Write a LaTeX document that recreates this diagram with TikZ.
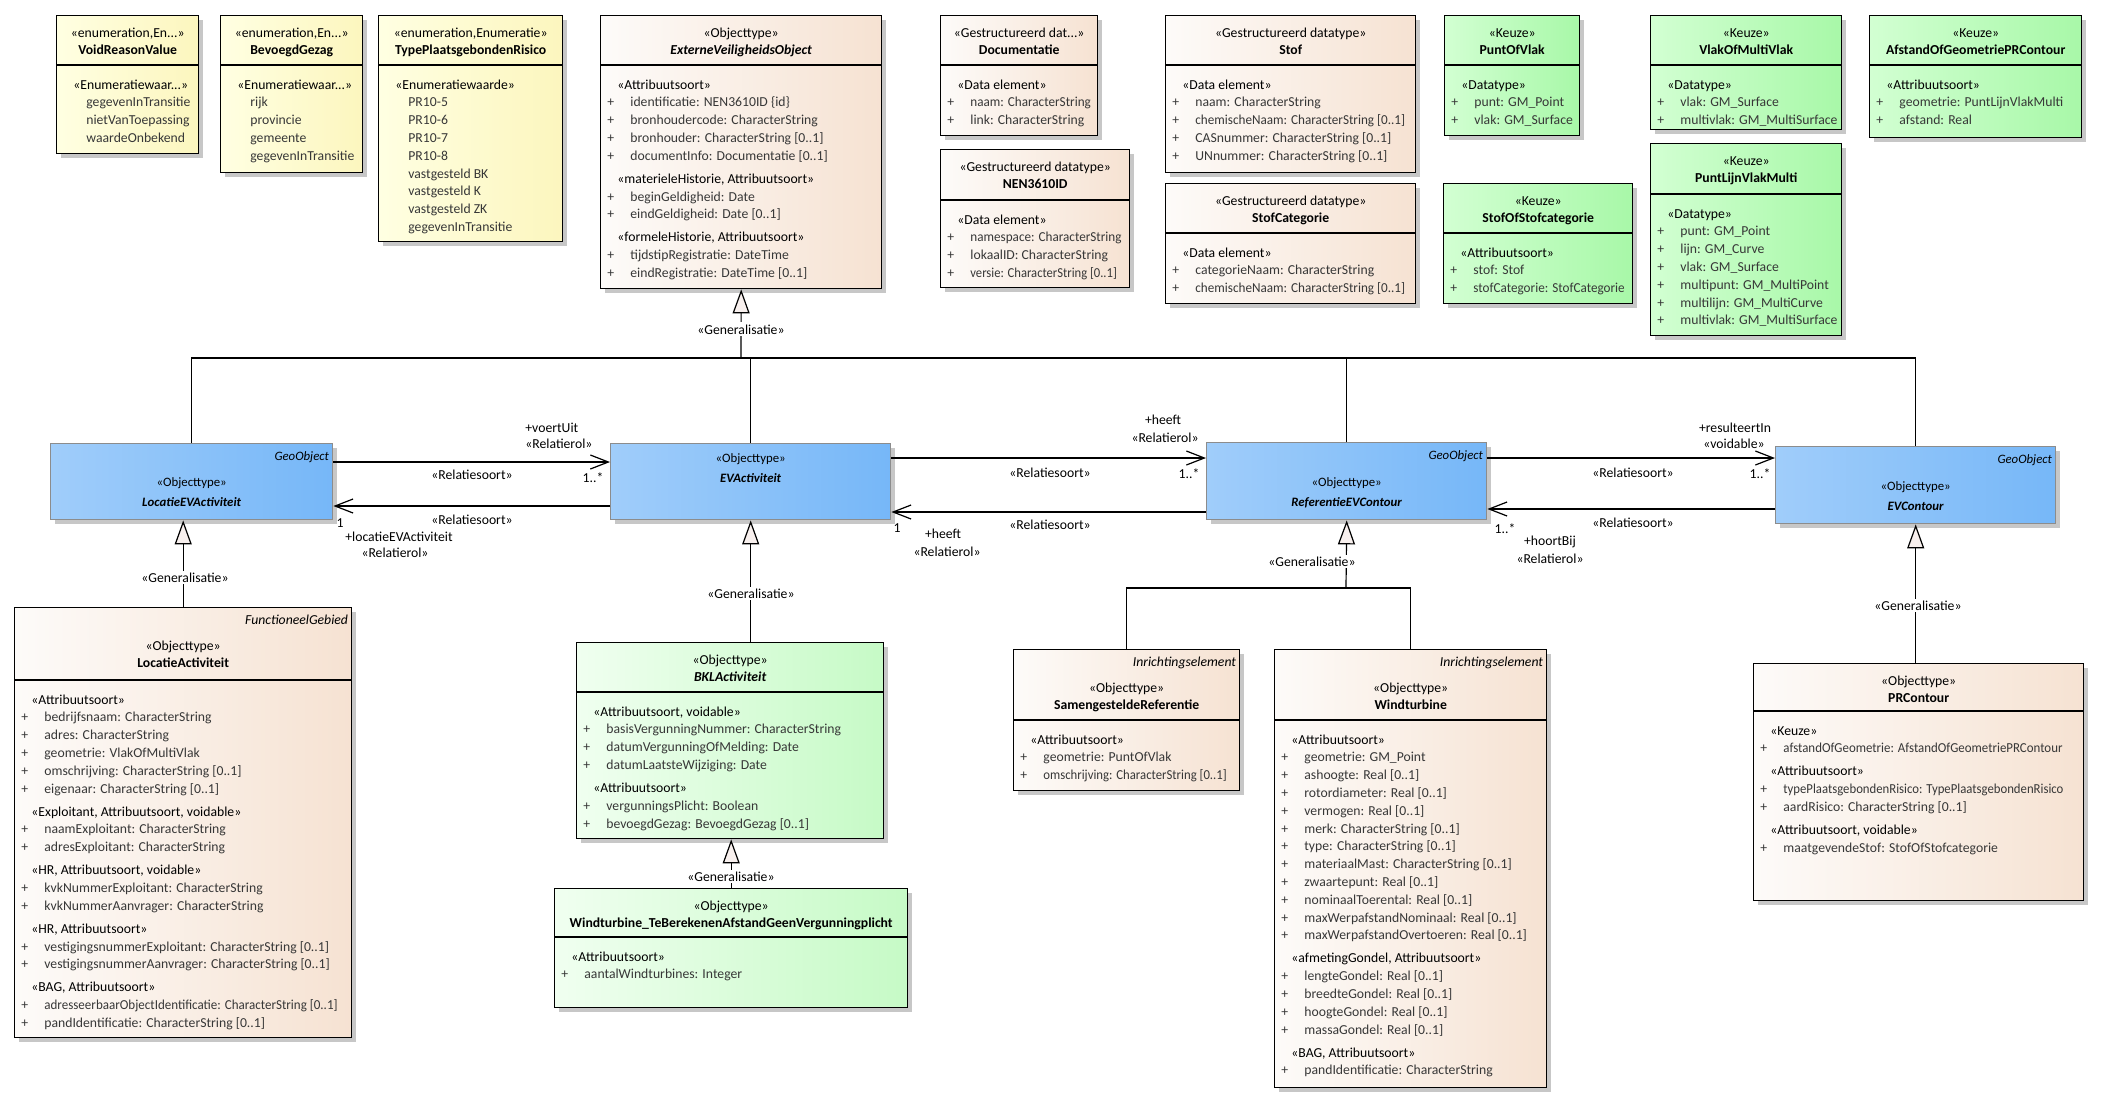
\documentclass[tikz,border=0pt]{standalone}
\usepackage{fontspec}
\setmainfont{Carlito}
\usetikzlibrary{arrows.meta,calc,shadows}

\definecolor{enumL}{RGB}{255,255,226}
\definecolor{enumR}{RGB}{252,246,190}
\definecolor{peachL}{RGB}{253,251,249}
\definecolor{peachR}{RGB}{246,226,210}
\definecolor{keuzeL}{RGB}{210,255,210}
\definecolor{keuzeR}{RGB}{168,248,168}
\definecolor{lgreenL}{RGB}{240,255,240}
\definecolor{lgreenR}{RGB}{198,250,198}
\definecolor{blueL}{RGB}{160,205,250}
\definecolor{blueR}{RGB}{118,183,248}
\definecolor{trifill}{RGB}{248,240,238}
\definecolor{itemtxt}{RGB}{55,55,55}

\newcommand{\bodyfont}{\fontsize{6.85}{8.9}\selectfont}
\newcommand{\geofont}{\fontsize{6.4}{9.6}\selectfont}
\newcommand{\sttype}[1]{\strut\hspace*{5pt}«#1»}
\newcommand{\attr}[1]{\strut\textcolor{itemtxt}{\makebox[11.5pt][l]{+}#1}}
\newcommand{\enumv}[1]{\strut\textcolor{itemtxt}{\makebox[11.5pt][l]{}#1}}
\newcommand{\umlhead}[2]{\strut«#1»\\\strut\textbf{#2}}
\newcommand{\squeeze}[2]{\scalebox{#1}[1]{#2}}
% style, name, position, width, height, divider, header, body, header offset
\newcommand{\umlclass}[9]{%
  \node[#1, minimum width=#4*0.5pt, minimum height=#5*0.5pt] (#2) at #3 {};
  \draw[line width=0.7pt] ($(#2.north west)+(0,#6)$) -- ($(#2.north east)+(0,#6)$);
  \node[hd] (#2-h) at ($(#2.north)+(0,#9)$) {#7};
  \node[bd] (#2-b) at ($(#2.north west)+(7,#6+11.3)$) {#8};
}

\begin{document}
\begin{tikzpicture}[x=0.5pt,y=-0.5pt,
  box/.style={draw=black, line width=0.7pt, inner sep=0pt, anchor=north west,
    drop shadow={shadow xshift=2pt,shadow yshift=-2pt,fill=black!22,opacity=1}},
  enumbox/.style={box, left color=enumL, right color=enumR},
  peachbox/.style={box, left color=peachL, right color=peachR},
  keuzebox/.style={box, left color=keuzeL, right color=keuzeR},
  lgreenbox/.style={box, left color=lgreenL, right color=lgreenR},
  geobox/.style={box, draw=black!45, left color=blueL, right color=blueR},
  hd/.style={anchor=north, align=center, inner sep=0pt, font=\bodyfont},
  bd/.style={anchor=north west, align=left, inner sep=0pt, font=\bodyfont},
  tag/.style={anchor=north east, inner sep=0pt, font=\bodyfont\itshape},
  geotag/.style={tag, font=\geofont\itshape},
  geohd/.style={hd, font=\geofont},
  lbl/.style={anchor=base, inner sep=0pt, font=\bodyfont},
  glbl/.style={lbl, fill=white, inner sep=1pt},
  con/.style={draw, line width=0.6pt},
  gen/.style={con, -{Triangle[length=12pt,width=8.5pt,fill=trifill,line width=0.6pt]}},
  assoc/.style={con, -{Straight Barb[length=9pt,width=7pt,line width=0.6pt]}}]

\fill[white] (0,0) rectangle (2105,1105);

% enumeraties
\umlclass{enumbox}{void}{(56,15)}{142}{138}{50}{\umlhead{enumeration,En...}{VoidReasonValue}}
  {\sttype{Enumeratiewaar...}\\\enumv{gegevenInTransitie}\\\enumv{nietVanToepassing}\\\enumv{waardeOnbekend}}{9.3}
\umlclass{enumbox}{bevoegd}{(220,15)}{142}{157}{50}{\umlhead{enumeration,En...}{BevoegdGezag}}
  {\sttype{Enumeratiewaar...}\\\enumv{rijk}\\\enumv{provincie}\\\enumv{gemeente}\\\enumv{gegevenInTransitie}}{9.3}
\umlclass{enumbox}{typepr}{(378,15)}{184}{226}{50}{\umlhead{enumeration,Enumeratie}{TypePlaatsgebondenRisico}}
  {\sttype{Enumeratiewaarde}\\\enumv{PR10-5}\\\enumv{PR10-6}\\\enumv{PR10-7}\\\enumv{PR10-8}\\\enumv{vastgesteld BK}\\\enumv{vastgesteld K}\\\enumv{vastgesteld ZK}\\\enumv{gegevenInTransitie}}{9.3}

% bovenste rij
\umlclass{peachbox}{evo}{(600,15)}{281}{273}{50}{\umlhead{Objecttype}{\textit{ExterneVeiligheidsObject}}}
  {\sttype{Attribuutsoort}\\\attr{identificatie: NEN3610ID \{id\}}\\\attr{bronhoudercode: CharacterString}\\\attr{bronhouder: CharacterString [0..1]}\\\attr{documentInfo: Documentatie [0..1]}\\[2.6pt]
   \sttype{materieleHistorie, Attribuutsoort}\\\attr{beginGeldigheid: Date}\\\attr{eindGeldigheid: Date [0..1]}\\[2.6pt]
   \sttype{formeleHistorie, Attribuutsoort}\\\attr{tijdstipRegistratie: DateTime}\\\attr{eindRegistratie: DateTime [0..1]}}{9.3}
\umlclass{peachbox}{docu}{(940,15)}{157}{120}{50}{\umlhead{Gestructureerd dat...}{Documentatie}}
  {\sttype{Data element}\\\attr{\squeeze{0.96}{naam: CharacterString}}\\\attr{link: CharacterString}}{9.3}
\umlclass{peachbox}{nen}{(940,149)}{189}{138}{51}{\umlhead{Gestructureerd datatype}{NEN3610ID}}
  {\sttype{Data element}\\\attr{\squeeze{0.96}{namespace: CharacterString}}\\\attr{lokaalID: CharacterString}\\\attr{\squeeze{0.92}{versie: CharacterString [0..1]}}}{9.3}
\umlclass{peachbox}{stof}{(1165,15)}{250}{157}{50}{\umlhead{Gestructureerd datatype}{Stof}}
  {\sttype{Data element}\\\attr{naam: CharacterString}\\\attr{\squeeze{0.96}{chemischeNaam: CharacterString [0..1]}}\\\attr{CASnummer: CharacterString [0..1]}\\\attr{UNnummer: CharacterString [0..1]}}{9.3}
\umlclass{peachbox}{stofcat}{(1165,183)}{250}{120}{50}{\umlhead{Gestructureerd datatype}{StofCategorie}}
  {\sttype{Data element}\\\attr{categorieNaam: CharacterString}\\\attr{\squeeze{0.96}{chemischeNaam: CharacterString [0..1]}}}{9.3}
\umlclass{keuzebox}{puntofvlak}{(1444,15)}{135}{120}{50}{\umlhead{Keuze}{PuntOfVlak}}
  {\sttype{Datatype}\\\attr{punt: GM\_Point}\\\attr{vlak: GM\_Surface}}{9.3}
\umlclass{keuzebox}{stofofcat}{(1443,183)}{189}{120}{50}{\umlhead{Keuze}{StofOfStofcategorie}}
  {\sttype{Attribuutsoort}\\\attr{stof: Stof}\\\attr{\squeeze{0.96}{stofCategorie: StofCategorie}}}{9.3}
\umlclass{keuzebox}{vlakmulti}{(1650,15)}{191}{114}{50}{\umlhead{Keuze}{VlakOfMultiVlak}}
  {\sttype{Datatype}\\\attr{vlak: GM\_Surface}\\\attr{multivlak: GM\_MultiSurface}}{9.3}
\umlclass{keuzebox}{afstand}{(1869,15)}{212}{122}{50}{\umlhead{Keuze}{AfstandOfGeometriePRContour}}
  {\sttype{Attribuutsoort}\\\attr{geometrie: PuntLijnVlakMulti}\\\attr{afstand: Real}}{9.3}
\umlclass{keuzebox}{plvm}{(1650,143)}{191}{192}{51}{\umlhead{Keuze}{PuntLijnVlakMulti}}
  {\sttype{Datatype}\\\attr{punt: GM\_Point}\\\attr{lijn: GM\_Curve}\\\attr{vlak: GM\_Surface}\\\attr{multipunt: GM\_MultiPoint}\\\attr{multilijn: GM\_MultiCurve}\\\attr{multivlak: GM\_MultiSurface}}{9.3}

% blauwe objecttypen
\node[geobox, minimum width=141pt, minimum height=38pt] (locev) at (50,443) {};
\node[geotag] at ($(locev.north east)+(-4,3.2)$) {\strut GeoObject};
\node[geohd] at ($(locev.north)+(0,30)$) {\strut«Objecttype»\\\strut\textbf{\textit{LocatieEVActiviteit}}};
\node[geobox, minimum width=140pt, minimum height=38pt] (evact) at (610,443) {};
\node[geohd] at ($(evact.north)+(0,6)$) {\strut«Objecttype»\\\strut\textbf{\textit{EVActiviteit}}};
\node[geobox, minimum width=140pt, minimum height=38.5pt] (refev) at (1206,442) {};
\node[geotag] at ($(refev.north east)+(-4,3.2)$) {\strut GeoObject};
\node[geohd] at ($(refev.north)+(0,31)$) {\strut«Objecttype»\\\strut\textbf{\textit{ReferentieEVContour}}};
\node[geobox, minimum width=140pt, minimum height=38.5pt] (evcont) at (1775,446) {};
\node[geotag] at ($(evcont.north east)+(-4,3.2)$) {\strut GeoObject};
\node[geohd] at ($(evcont.north)+(0,31)$) {\strut«Objecttype»\\\strut\textbf{\textit{EVContour}}};

% onderste rij
\umlclass{peachbox}{locact}{(14,607)}{337}{430}{73}{\umlhead{Objecttype}{LocatieActiviteit}}
  {\sttype{Attribuutsoort}\\\attr{bedrijfsnaam: CharacterString}\\\attr{adres: CharacterString}\\\attr{geometrie: VlakOfMultiVlak}\\\attr{omschrijving: CharacterString [0..1]}\\\attr{eigenaar: CharacterString [0..1]}\\[2.6pt]
   \sttype{Exploitant, Attribuutsoort, voidable}\\\attr{naamExploitant: CharacterString}\\\attr{adresExploitant: CharacterString}\\[2.6pt]
   \sttype{HR, Attribuutsoort, voidable}\\\attr{kvkNummerExploitant: CharacterString}\\\attr{kvkNummerAanvrager: CharacterString}\\[2.6pt]
   \sttype{HR, Attribuutsoort}\\\attr{vestigingsnummerExploitant: CharacterString [0..1]}\\\attr{vestigingsnummerAanvrager: CharacterString [0..1]}\\[2.6pt]
   \sttype{BAG, Attribuutsoort}\\\attr{\squeeze{0.95}{adresseerbaarObjectIdentificatie: CharacterString [0..1]}}\\\attr{pandIdentificatie: CharacterString [0..1]}}{30.3}
\node[tag] at ($(locact.north east)+(-4,4.3)$) {\strut FunctioneelGebied};
\umlclass{lgreenbox}{bkl}{(576,642)}{307}{196}{50}{\umlhead{Objecttype}{\textit{BKLActiviteit}}}
  {\sttype{Attribuutsoort, voidable}\\\attr{basisVergunningNummer: CharacterString}\\\attr{datumVergunningOfMelding: Date}\\\attr{datumLaatsteWijziging: Date}\\[2.6pt]
   \sttype{Attribuutsoort}\\\attr{vergunningsPlicht: Boolean}\\\attr{bevoegdGezag: BevoegdGezag [0..1]}}{9.3}
\umlclass{lgreenbox}{wtte}{(554,888)}{353}{119}{49}{\umlhead{Objecttype}{Windturbine\_TeBerekenenAfstandGeenVergunningplicht}}
  {\sttype{Attribuutsoort}\\\attr{aantalWindturbines: Integer}}{9.3}
\umlclass{peachbox}{samref}{(1013,649)}{226}{141}{71}{\umlhead{Objecttype}{SamengesteldeReferentie}}
  {\sttype{Attribuutsoort}\\\attr{geometrie: PuntOfVlak}\\\attr{\squeeze{0.93}{omschrijving: CharacterString [0..1]}}}{30.3}
\node[tag] at ($(samref.north east)+(-4,4.3)$) {\strut Inrichtingselement};
\umlclass{peachbox}{windt}{(1274,649)}{272}{438}{71}{\umlhead{Objecttype}{Windturbine}}
  {\sttype{Attribuutsoort}\\\attr{geometrie: GM\_Point}\\\attr{ashoogte: Real [0..1]}\\\attr{rotordiameter: Real [0..1]}\\\attr{vermogen: Real [0..1]}\\\attr{merk: CharacterString [0..1]}\\\attr{type: CharacterString [0..1]}\\\attr{materiaalMast: CharacterString [0..1]}\\\attr{zwaartepunt: Real [0..1]}\\\attr{nominaalToerental: Real [0..1]}\\\attr{maxWerpafstandNominaal: Real [0..1]}\\\attr{maxWerpafstandOvertoeren: Real [0..1]}\\[2.6pt]
   \sttype{afmetingGondel, Attribuutsoort}\\\attr{lengteGondel: Real [0..1]}\\\attr{breedteGondel: Real [0..1]}\\\attr{hoogteGondel: Real [0..1]}\\\attr{massaGondel: Real [0..1]}\\[2.6pt]
   \sttype{BAG, Attribuutsoort}\\\attr{pandIdentificatie: CharacterString}}{30.3}
\node[tag] at ($(windt.north east)+(-4,4.3)$) {\strut Inrichtingselement};
\umlclass{peachbox}{prc}{(1753,663)}{330}{237}{48}{\umlhead{Objecttype}{PRContour}}
  {\sttype{Keuze}\\\attr{\squeeze{0.94}{afstandOfGeometrie: AfstandOfGeometriePRContour}}\\[2.6pt]
   \sttype{Attribuutsoort}\\\attr{\squeeze{0.93}{typePlaatsgebondenRisico: TypePlaatsgebondenRisico}}\\\attr{aardRisico: CharacterString [0..1]}\\[2.6pt]
   \sttype{Attribuutsoort, voidable}\\\attr{maatgevendeStof: StofOfStofcategorie}}{9.3}

% generalisaties
\coordinate (gj) at (741,358);
\coordinate (gj2) at (1346,588);
\draw[gen] (gj) -- (evo.south);
\draw[con] (locev.north) |- (evcont.north |- gj) -- (evcont.north);
\draw[con] (evact.north) -- (evact.north |- gj);
\draw[con] (refev.north) -- (refev.north |- gj);
\node[glbl] at (741,334) {«Generalisatie»};
\draw[gen] (locact.north) -- (locact.north |- locev.south);
\node[glbl] at (185,582) {«Generalisatie»};
\draw[gen] (evact.south |- bkl.north) -- (evact.south);
\node[glbl] at (751,598) {«Generalisatie»};
\draw[gen] (wtte.north) -- (wtte.north |- bkl.south);
\node[glbl] at (731,881) {«Generalisatie»};
\draw[con] (samref.north) |- (windt.north |- gj2) -- (windt.north);
\draw[gen] (gj2) -- (refev.south);
\node[glbl] at (1312,566) {«Generalisatie»};
\draw[gen] (prc.north -| evcont.south) -- (evcont.south);
\node[glbl] at (1918,610) {«Generalisatie»};

% relatiesoorten
\path (0,462) coordinate (ya) (0,506) coordinate (yb) (0,458) coordinate (yc)
      (0,512) coordinate (yd) (0,509) coordinate (ye);
\draw[assoc] (locev.east |- ya) -- (evact.west |- ya);
\node[lbl, anchor=base west] at (525,432) {+voertUit};
\node[lbl, anchor=base west] at (525,448) {«Relatierol»};
\node[lbl] at (472,479) {«Relatiesoort»};
\node[lbl] at (593,482) {1..*};
\draw[assoc] (evact.west |- yb) -- (locev.east |- yb);
\node[lbl] at (472,524) {«Relatiesoort»};
\node[lbl] at (340,527) {1};
\node[lbl] at (399,541) {+locatieEVActiviteit};
\node[lbl] at (395,557) {«Relatierol»};
\draw[assoc] (evact.east |- yc) -- (refev.west |- yc);
\node[lbl] at (1163,424) {+heeft};
\node[lbl] at (1165,442) {«Relatierol»};
\node[lbl] at (1050,477) {«Relatiesoort»};
\node[lbl] at (1189,478) {1..*};
\draw[assoc] (refev.west |- yd) -- (evact.east |- yd);
\node[lbl] at (1050,529) {«Relatiesoort»};
\node[lbl] at (897,532) {1};
\node[lbl] at (943,538) {+heeft};
\node[lbl] at (947,556) {«Relatierol»};
\draw[assoc] (refev.east |- yc) -- (evcont.west |- yc);
\node[lbl] at (1735,432) {+resulteertIn};
\node[lbl] at (1734,448) {«voidable»};
\node[lbl] at (1633,477) {«Relatiesoort»};
\node[lbl] at (1760,478) {1..*};
\draw[assoc] (evcont.west |- ye) -- (refev.east |- ye);
\node[lbl] at (1633,527) {«Relatiesoort»};
\node[lbl] at (1505,533) {1..*};
\node[lbl] at (1550,545) {+hoortBij};
\node[lbl] at (1550,563) {«Relatierol»};
\end{tikzpicture}
\end{document}
